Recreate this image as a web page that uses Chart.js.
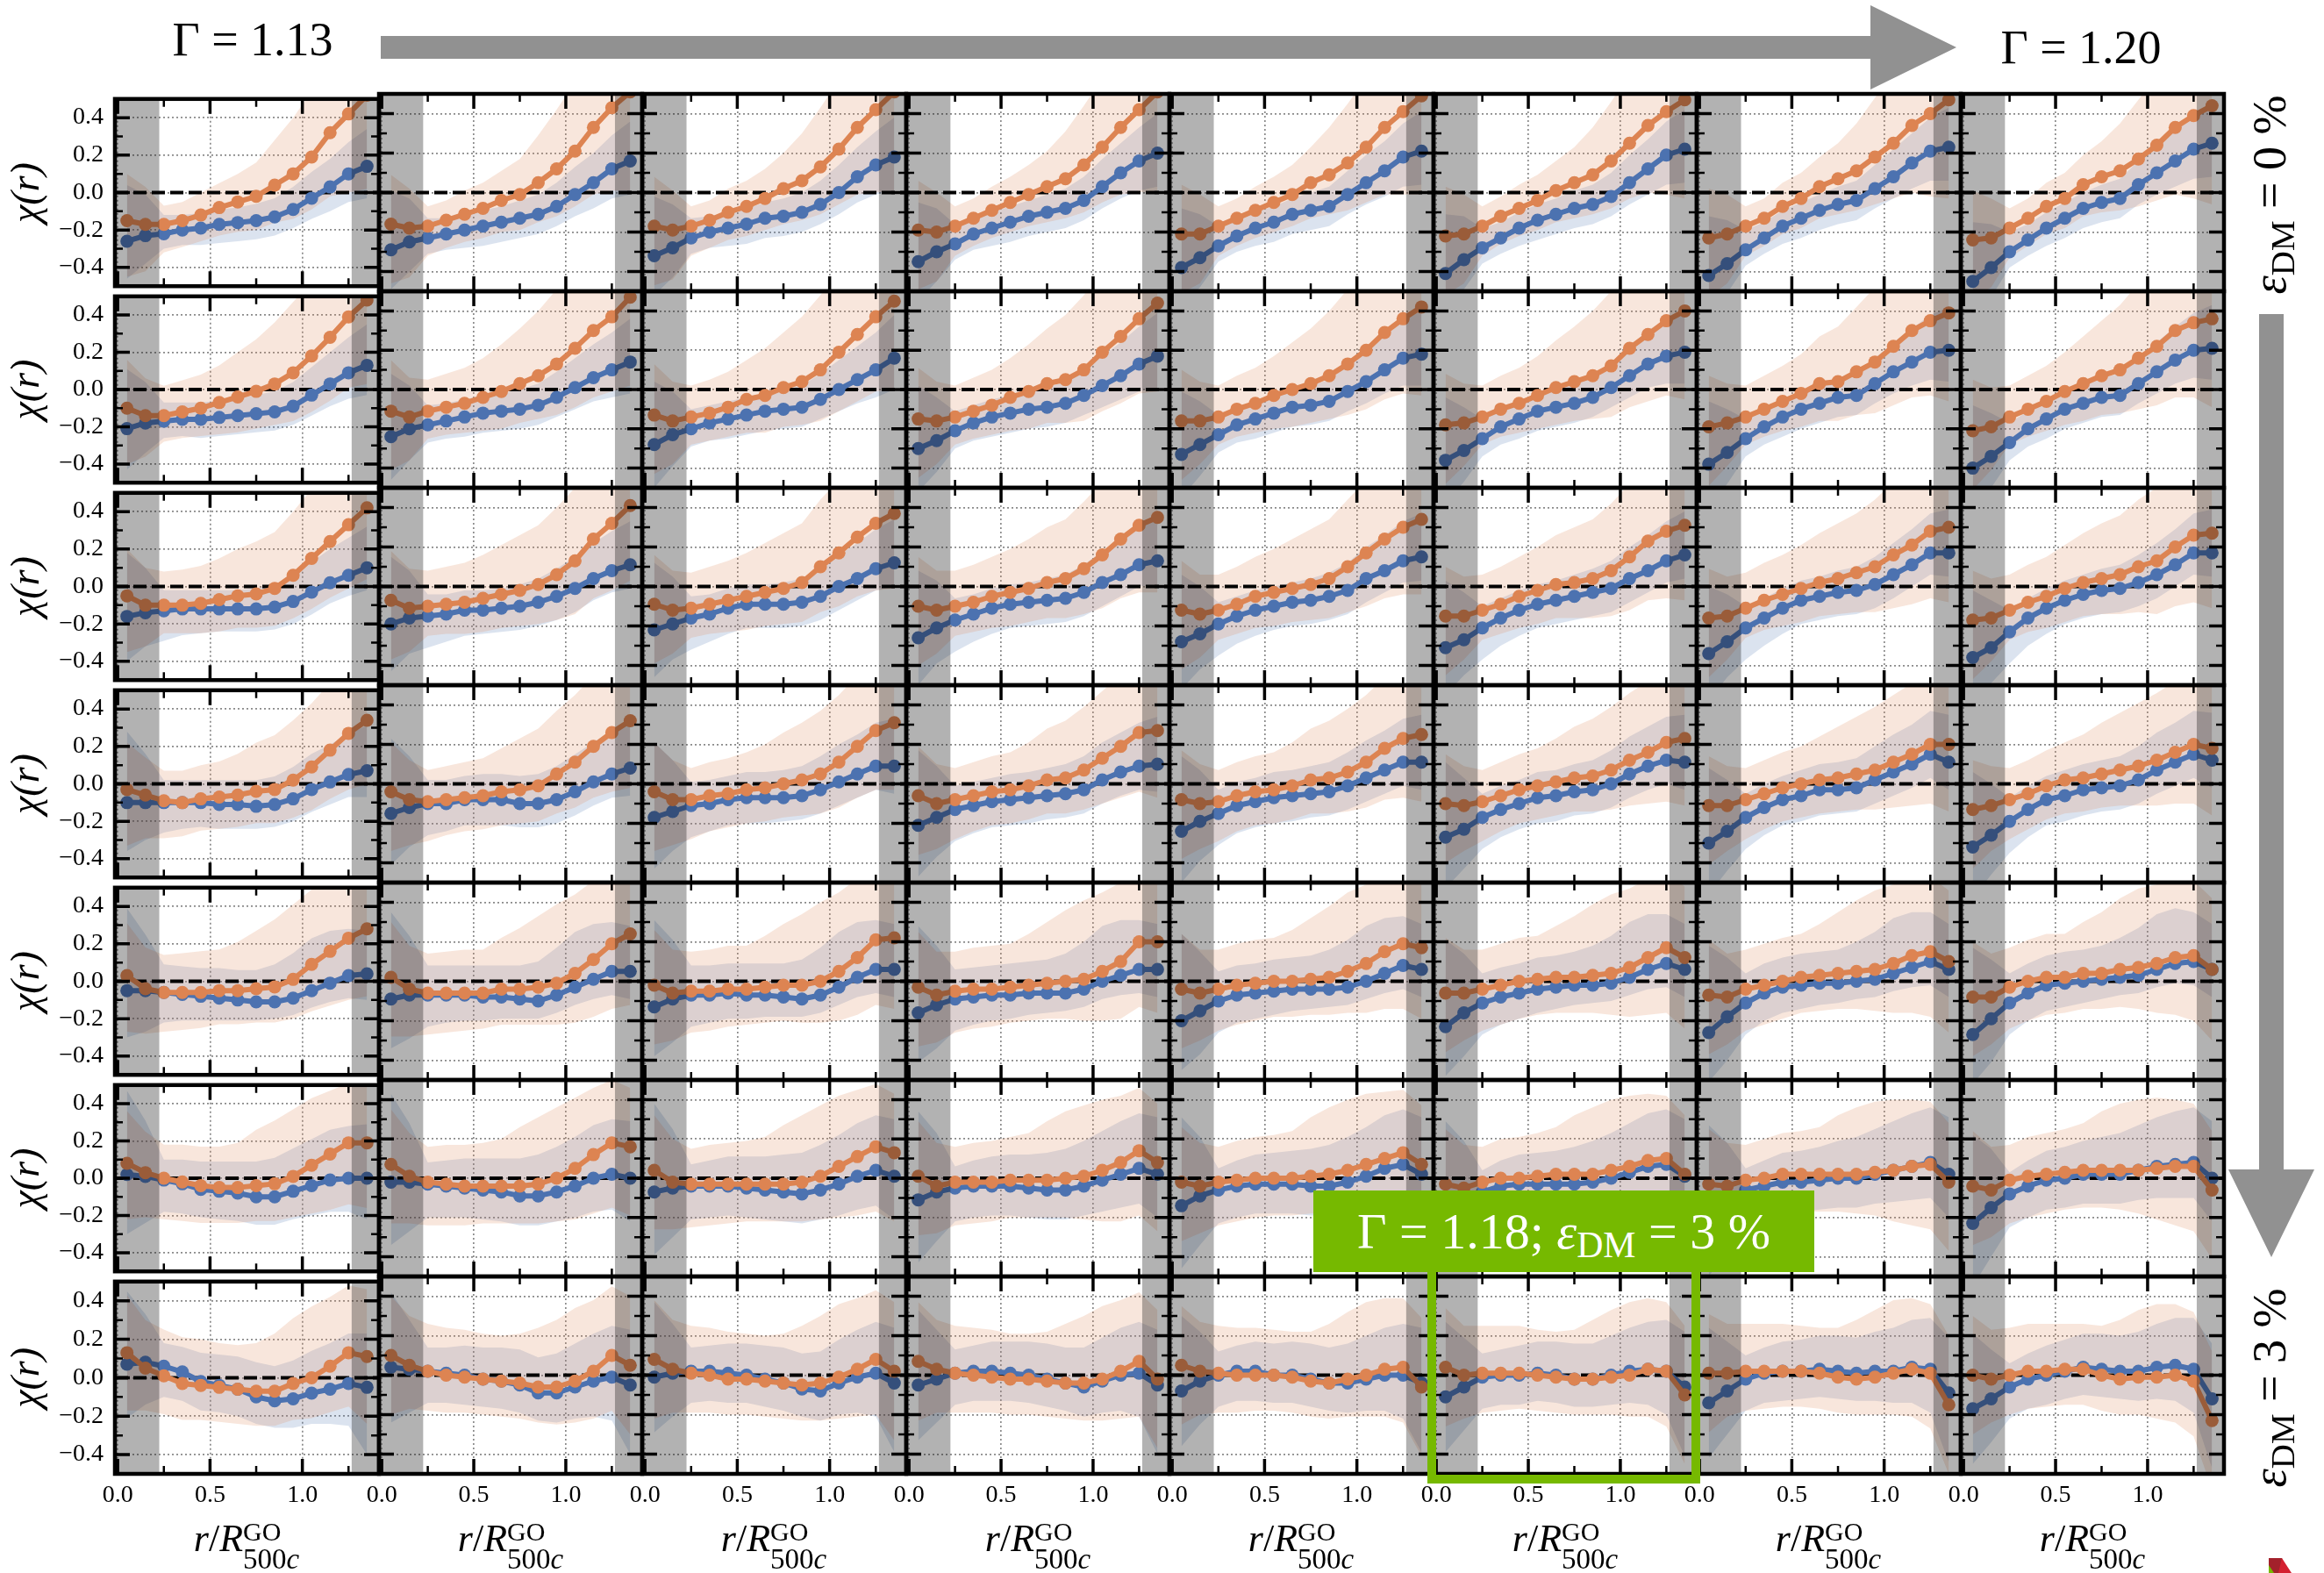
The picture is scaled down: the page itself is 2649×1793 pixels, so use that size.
<!DOCTYPE html>
<html lang="en">
<head>
<meta charset="utf-8">
<title>chi(r) grid</title>
<script src="https://cdn.jsdelivr.net/npm/chart.js@4.4.1/dist/chart.umd.min.js"></script>
<style>
  html, body { margin: 0; padding: 0; background: #fff; }
  body { position: relative; width: 2649px; height: 1793px; overflow: hidden;
         font-family: 'Liberation Serif', 'DejaVu Serif', serif; color: #000; }
  canvas.panel { position: absolute; z-index: 1; }
  .lbl { position: absolute; white-space: nowrap; line-height: 1; z-index: 5; }
  .gam { font-size: 54px; transform: translateX(-50%); }
  .eps { font-size: 54px; transform: translate(-50%, -50%) rotate(-90deg); }
  .sb { font-size: 0.72em; position: relative; top: 0.25em; }
  .xlab { font-size: 44px; transform: translateX(-50%); }
  .stack { display: inline-block; vertical-align: -20px; line-height: 1; }
  .stack .s1 { display: block; font-size: 30px; }
  .stack .s2 { display: block; font-size: 33px; }
  #deco { position: absolute; left: 0; top: 0; z-index: 4; }
  #hl-label { position: absolute; left: 1497px; top: 1357px; width: 571px; height: 93px;
    background: #76b900; color: #fff; font-size: 58px; line-height: 1; display: flex;
    align-items: center; justify-content: center; z-index: 6; white-space: nowrap; }
  #hl-box { position: absolute; left: 1627px; top: 1449px; width: 311px; height: 242px;
    box-sizing: border-box; border: 10px solid #76b900; border-top: none; z-index: 6; }
</style>
</head>
<body>

<svg id="deco" width="2649" height="1793" viewBox="0 0 2649 1793">
  <polygon fill="#919191" points="434,41 2132,41 2132,6 2230,54 2132,102 2132,67 434,67"/>
  <polygon fill="#919191" points="2575,358 2603,358 2603,1333 2638,1333 2589,1433 2540,1333 2575,1333"/>
  <polygon fill="#a3212b" points="2586,1776 2601,1776 2606,1793 2586,1793"/>
  <polygon fill="#d42031" points="2601,1776 2612,1793 2597,1793"/>
  <polygon fill="#76b900" points="2586,1784 2592,1793 2586,1793"/>
</svg>

<div class="lbl gam" style="left:288px; top:18px;">Γ = 1.13</div>
<div class="lbl gam" style="left:2372px; top:27px;">Γ = 1.20</div>
<div class="lbl eps" style="left:2587px; top:222px;"><i>ε</i><span class="sb">DM</span> = 0 %</div>
<div class="lbl eps" style="left:2587px; top:1582px;"><i>ε</i><span class="sb">DM</span> = 3 %</div>

<div id="hl-label"><span>Γ = 1.18; <i>ε</i><span class="sb">DM</span> = 3 %</span></div>
<div id="hl-box"></div>

<script>
// radial bins (r / R500c)
const xs = [0.05, 0.15, 0.25, 0.35, 0.45, 0.55, 0.65, 0.75, 0.85, 0.95, 1.05, 1.15, 1.25, 1.35];

// axis ticks and shaded (excluded) radial ranges
const xMajor = [0, 0.5, 1.0];
const xMinor = [0.25, 0.75, 1.25];
const yMajor = [-0.4, -0.2, 0, 0.2, 0.4];
const yMinor = [-0.3, -0.1, 0.1, 0.3];
const shadeLeft = 0.225;
const shadeRight = 1.267;

// chi(r), one row per eps_DM (0 % .. 3 %), 8 columns Gamma = 1.13 .. 1.20
const orangeRow0 = [
  [-0.15, -0.17, -0.17, -0.15, -0.12, -0.08, -0.05, -0.02, 0.04, 0.1, 0.19, 0.32, 0.42, 0.52],
  [-0.16, -0.18, -0.17, -0.14, -0.11, -0.08, -0.04, -0.01, 0.05, 0.12, 0.21, 0.33, 0.43, 0.51],
  [-0.17, -0.19, -0.17, -0.14, -0.1, -0.07, -0.03, 0.02, 0.06, 0.13, 0.22, 0.33, 0.42, 0.51],
  [-0.19, -0.2, -0.17, -0.13, -0.09, -0.05, -0.01, 0.03, 0.07, 0.14, 0.23, 0.33, 0.42, 0.51],
  [-0.21, -0.21, -0.17, -0.13, -0.09, -0.05, -0.01, 0.05, 0.09, 0.15, 0.23, 0.33, 0.41, 0.49],
  [-0.22, -0.21, -0.17, -0.12, -0.08, -0.04, 0.01, 0.05, 0.09, 0.16, 0.25, 0.34, 0.41, 0.47],
  [-0.23, -0.21, -0.17, -0.13, -0.07, -0.03, 0.03, 0.07, 0.11, 0.18, 0.25, 0.34, 0.4, 0.47],
  [-0.24, -0.23, -0.18, -0.13, -0.07, -0.03, 0.04, 0.08, 0.11, 0.17, 0.24, 0.33, 0.39, 0.44]
];
const blueRow0 = [
  [-0.26, -0.23, -0.22, -0.2, -0.19, -0.17, -0.16, -0.15, -0.13, -0.09, -0.03, 0.03, 0.1, 0.14],
  [-0.29, -0.25, -0.23, -0.21, -0.19, -0.17, -0.15, -0.13, -0.11, -0.07, -0.01, 0.05, 0.12, 0.16],
  [-0.32, -0.28, -0.23, -0.2, -0.18, -0.16, -0.13, -0.12, -0.1, -0.06, 0.0, 0.08, 0.14, 0.18],
  [-0.35, -0.3, -0.26, -0.21, -0.18, -0.15, -0.12, -0.1, -0.08, -0.04, 0.03, 0.1, 0.16, 0.2],
  [-0.38, -0.33, -0.27, -0.22, -0.18, -0.15, -0.11, -0.09, -0.07, -0.01, 0.05, 0.11, 0.18, 0.21],
  [-0.41, -0.34, -0.28, -0.23, -0.18, -0.14, -0.11, -0.08, -0.06, -0.02, 0.05, 0.12, 0.19, 0.22],
  [-0.42, -0.36, -0.29, -0.23, -0.17, -0.13, -0.09, -0.06, -0.04, 0.02, 0.08, 0.15, 0.21, 0.23],
  [-0.45, -0.38, -0.3, -0.24, -0.18, -0.13, -0.08, -0.05, -0.03, 0.04, 0.1, 0.16, 0.22, 0.25]
];
const orangeRow1 = [
  [-0.1, -0.14, -0.14, -0.12, -0.1, -0.07, -0.04, -0.01, 0.03, 0.09, 0.18, 0.28, 0.39, 0.48],
  [-0.11, -0.14, -0.11, -0.09, -0.07, -0.04, -0.01, 0.03, 0.07, 0.13, 0.21, 0.3, 0.37, 0.47],
  [-0.13, -0.16, -0.14, -0.12, -0.09, -0.05, -0.03, 0.01, 0.04, 0.1, 0.19, 0.28, 0.37, 0.45],
  [-0.15, -0.16, -0.14, -0.11, -0.08, -0.04, -0.01, 0.03, 0.05, 0.1, 0.19, 0.27, 0.36, 0.44],
  [-0.16, -0.16, -0.14, -0.1, -0.07, -0.03, 0.0, 0.03, 0.07, 0.13, 0.2, 0.29, 0.36, 0.42],
  [-0.18, -0.17, -0.14, -0.1, -0.07, -0.03, 0.01, 0.04, 0.07, 0.12, 0.21, 0.28, 0.35, 0.4],
  [-0.19, -0.17, -0.14, -0.1, -0.06, -0.02, 0.03, 0.04, 0.09, 0.14, 0.22, 0.3, 0.35, 0.39],
  [-0.21, -0.19, -0.14, -0.1, -0.06, -0.01, 0.03, 0.07, 0.1, 0.16, 0.22, 0.3, 0.34, 0.36]
];
const blueRow1 = [
  [-0.21, -0.18, -0.17, -0.16, -0.16, -0.15, -0.14, -0.13, -0.12, -0.09, -0.03, 0.03, 0.09, 0.13],
  [-0.24, -0.2, -0.18, -0.16, -0.14, -0.12, -0.11, -0.1, -0.08, -0.04, 0.01, 0.06, 0.1, 0.14],
  [-0.28, -0.23, -0.2, -0.17, -0.15, -0.13, -0.11, -0.1, -0.09, -0.05, 0.0, 0.05, 0.1, 0.16],
  [-0.3, -0.26, -0.21, -0.17, -0.14, -0.12, -0.1, -0.09, -0.07, -0.03, 0.02, 0.07, 0.13, 0.17],
  [-0.33, -0.28, -0.23, -0.18, -0.15, -0.12, -0.09, -0.08, -0.06, -0.01, 0.04, 0.1, 0.16, 0.18],
  [-0.36, -0.31, -0.25, -0.19, -0.15, -0.11, -0.09, -0.07, -0.04, 0.01, 0.07, 0.13, 0.17, 0.19],
  [-0.38, -0.32, -0.25, -0.19, -0.14, -0.1, -0.07, -0.04, -0.03, 0.03, 0.09, 0.14, 0.19, 0.2],
  [-0.4, -0.34, -0.27, -0.2, -0.15, -0.1, -0.07, -0.04, -0.03, 0.03, 0.09, 0.15, 0.2, 0.21]
];
const orangeRow2 = [
  [-0.05, -0.1, -0.1, -0.1, -0.09, -0.07, -0.05, -0.04, -0.01, 0.06, 0.15, 0.24, 0.33, 0.42],
  [-0.07, -0.11, -0.1, -0.09, -0.08, -0.06, -0.04, -0.02, 0.01, 0.06, 0.13, 0.24, 0.32, 0.41],
  [-0.09, -0.12, -0.11, -0.09, -0.07, -0.05, -0.03, -0.01, 0.02, 0.1, 0.17, 0.25, 0.32, 0.37],
  [-0.1, -0.12, -0.1, -0.08, -0.05, -0.03, -0.01, 0.02, 0.04, 0.09, 0.16, 0.24, 0.31, 0.35],
  [-0.12, -0.14, -0.12, -0.09, -0.05, -0.03, -0.01, 0.01, 0.04, 0.1, 0.17, 0.24, 0.3, 0.34],
  [-0.15, -0.15, -0.12, -0.09, -0.05, -0.02, 0.01, 0.02, 0.04, 0.08, 0.15, 0.23, 0.28, 0.31],
  [-0.16, -0.15, -0.11, -0.07, -0.04, -0.01, 0.02, 0.04, 0.07, 0.1, 0.16, 0.21, 0.28, 0.3],
  [-0.17, -0.16, -0.12, -0.08, -0.05, -0.01, 0.02, 0.04, 0.06, 0.1, 0.13, 0.2, 0.26, 0.27]
];
const blueRow2 = [
  [-0.16, -0.14, -0.13, -0.12, -0.12, -0.12, -0.12, -0.12, -0.11, -0.08, -0.03, 0.02, 0.06, 0.1],
  [-0.19, -0.16, -0.15, -0.14, -0.12, -0.12, -0.11, -0.1, -0.08, -0.05, -0.01, 0.04, 0.08, 0.11],
  [-0.22, -0.19, -0.16, -0.14, -0.11, -0.09, -0.09, -0.09, -0.08, -0.05, 0.0, 0.04, 0.09, 0.12],
  [-0.26, -0.21, -0.17, -0.14, -0.11, -0.09, -0.08, -0.07, -0.06, -0.03, 0.02, 0.06, 0.11, 0.13],
  [-0.28, -0.24, -0.19, -0.15, -0.12, -0.1, -0.08, -0.07, -0.05, -0.02, 0.04, 0.08, 0.13, 0.15],
  [-0.31, -0.27, -0.21, -0.16, -0.12, -0.09, -0.07, -0.05, -0.03, -0.01, 0.04, 0.08, 0.13, 0.16],
  [-0.34, -0.28, -0.21, -0.16, -0.11, -0.07, -0.05, -0.03, -0.02, 0.01, 0.06, 0.11, 0.17, 0.17],
  [-0.36, -0.31, -0.23, -0.16, -0.11, -0.07, -0.04, -0.02, -0.01, 0.02, 0.06, 0.11, 0.17, 0.17]
];
const orangeRow3 = [
  [-0.03, -0.06, -0.09, -0.1, -0.08, -0.07, -0.06, -0.04, -0.03, 0.02, 0.09, 0.18, 0.27, 0.34],
  [-0.04, -0.08, -0.09, -0.08, -0.07, -0.06, -0.04, -0.03, -0.01, 0.05, 0.11, 0.19, 0.26, 0.32],
  [-0.04, -0.08, -0.08, -0.06, -0.05, -0.03, -0.02, 0.0, 0.02, 0.05, 0.11, 0.19, 0.27, 0.31],
  [-0.06, -0.1, -0.08, -0.06, -0.04, -0.03, -0.01, 0.02, 0.03, 0.07, 0.13, 0.19, 0.26, 0.27],
  [-0.08, -0.1, -0.09, -0.06, -0.04, -0.03, -0.01, 0.02, 0.03, 0.06, 0.11, 0.18, 0.23, 0.25],
  [-0.1, -0.11, -0.09, -0.06, -0.03, -0.01, 0.01, 0.03, 0.04, 0.07, 0.12, 0.16, 0.21, 0.23],
  [-0.11, -0.11, -0.08, -0.05, -0.02, 0.0, 0.02, 0.03, 0.05, 0.07, 0.11, 0.15, 0.2, 0.2],
  [-0.13, -0.11, -0.08, -0.05, -0.01, 0.02, 0.03, 0.05, 0.07, 0.09, 0.12, 0.16, 0.2, 0.18]
];
const blueRow3 = [
  [-0.1, -0.1, -0.1, -0.1, -0.1, -0.11, -0.11, -0.12, -0.11, -0.08, -0.03, 0.01, 0.05, 0.07],
  [-0.15, -0.12, -0.1, -0.1, -0.08, -0.08, -0.08, -0.1, -0.1, -0.08, -0.04, 0.01, 0.05, 0.08],
  [-0.17, -0.14, -0.11, -0.1, -0.08, -0.07, -0.07, -0.07, -0.06, -0.03, 0.01, 0.05, 0.09, 0.09],
  [-0.21, -0.17, -0.13, -0.11, -0.09, -0.08, -0.07, -0.06, -0.05, -0.03, 0.02, 0.06, 0.09, 0.1],
  [-0.24, -0.19, -0.15, -0.11, -0.09, -0.07, -0.06, -0.05, -0.04, -0.01, 0.03, 0.07, 0.11, 0.11],
  [-0.27, -0.23, -0.17, -0.13, -0.1, -0.07, -0.06, -0.04, -0.03, 0.0, 0.05, 0.09, 0.12, 0.11],
  [-0.3, -0.24, -0.17, -0.12, -0.08, -0.06, -0.03, -0.03, -0.02, 0.02, 0.06, 0.1, 0.15, 0.11],
  [-0.32, -0.26, -0.19, -0.13, -0.08, -0.06, -0.03, -0.02, -0.01, 0.02, 0.07, 0.11, 0.15, 0.12]
];
const orangeRow4 = [
  [0.03, -0.04, -0.06, -0.06, -0.06, -0.05, -0.05, -0.04, -0.03, 0.01, 0.09, 0.16, 0.23, 0.28],
  [0.02, -0.04, -0.06, -0.06, -0.06, -0.06, -0.04, -0.04, -0.03, -0.01, 0.04, 0.11, 0.19, 0.24],
  [-0.02, -0.06, -0.05, -0.05, -0.04, -0.04, -0.03, -0.02, -0.02, 0.0, 0.05, 0.12, 0.21, 0.22],
  [-0.03, -0.07, -0.05, -0.04, -0.04, -0.03, -0.02, -0.01, 0.0, 0.01, 0.05, 0.1, 0.2, 0.2],
  [-0.04, -0.06, -0.04, -0.02, -0.01, 0.0, 0.0, 0.01, 0.02, 0.05, 0.09, 0.15, 0.19, 0.17],
  [-0.06, -0.06, -0.04, -0.02, 0.0, 0.01, 0.02, 0.02, 0.03, 0.04, 0.07, 0.12, 0.17, 0.12],
  [-0.07, -0.08, -0.04, -0.02, 0.0, 0.02, 0.03, 0.04, 0.05, 0.06, 0.09, 0.13, 0.15, 0.1],
  [-0.08, -0.08, -0.03, 0.0, 0.02, 0.02, 0.04, 0.04, 0.06, 0.07, 0.09, 0.12, 0.13, 0.06]
];
const blueRow4 = [
  [-0.05, -0.05, -0.06, -0.07, -0.08, -0.09, -0.1, -0.11, -0.11, -0.09, -0.05, -0.01, 0.03, 0.04],
  [-0.09, -0.07, -0.07, -0.07, -0.07, -0.08, -0.08, -0.09, -0.1, -0.07, -0.03, 0.01, 0.05, 0.05],
  [-0.13, -0.09, -0.07, -0.07, -0.06, -0.07, -0.07, -0.08, -0.09, -0.07, -0.03, 0.02, 0.06, 0.06],
  [-0.16, -0.12, -0.09, -0.08, -0.07, -0.07, -0.06, -0.06, -0.06, -0.04, 0.0, 0.03, 0.06, 0.06],
  [-0.2, -0.15, -0.1, -0.07, -0.06, -0.05, -0.04, -0.04, -0.04, -0.03, 0.0, 0.04, 0.08, 0.06],
  [-0.23, -0.16, -0.11, -0.08, -0.06, -0.04, -0.03, -0.02, -0.02, -0.01, 0.02, 0.06, 0.09, 0.06],
  [-0.26, -0.18, -0.11, -0.06, -0.03, -0.02, -0.01, -0.01, 0.0, 0.01, 0.04, 0.07, 0.1, 0.06],
  [-0.27, -0.19, -0.11, -0.06, -0.02, -0.01, 0.0, 0.01, 0.02, 0.03, 0.06, 0.09, 0.1, 0.06]
];
const orangeRow5 = [
  [0.08, 0.03, 0.0, -0.02, -0.04, -0.05, -0.05, -0.04, -0.03, 0.01, 0.07, 0.13, 0.19, 0.19],
  [0.07, 0.01, -0.02, -0.03, -0.04, -0.04, -0.04, -0.04, -0.03, 0.0, 0.05, 0.12, 0.18, 0.16],
  [0.04, -0.02, -0.03, -0.03, -0.03, -0.03, -0.03, -0.03, -0.02, 0.01, 0.06, 0.11, 0.16, 0.13],
  [0.01, -0.04, -0.02, -0.02, -0.02, -0.01, -0.01, -0.01, 0.0, 0.01, 0.04, 0.08, 0.14, 0.08],
  [-0.02, -0.04, -0.02, -0.01, 0.0, 0.0, 0.0, 0.01, 0.02, 0.04, 0.07, 0.1, 0.13, 0.07],
  [-0.03, -0.05, -0.02, 0.0, 0.0, 0.01, 0.02, 0.02, 0.02, 0.04, 0.06, 0.09, 0.1, 0.02],
  [-0.03, -0.04, -0.01, 0.0, 0.02, 0.02, 0.02, 0.02, 0.02, 0.03, 0.04, 0.06, 0.07, -0.02],
  [-0.04, -0.06, -0.01, 0.01, 0.02, 0.03, 0.04, 0.04, 0.04, 0.04, 0.05, 0.06, 0.06, -0.06]
];
const blueRow5 = [
  [0.02, 0.01, -0.01, -0.03, -0.06, -0.07, -0.08, -0.1, -0.1, -0.07, -0.04, -0.01, 0.0, 0.0],
  [-0.02, -0.02, -0.03, -0.04, -0.05, -0.06, -0.07, -0.09, -0.09, -0.07, -0.04, 0.0, 0.02, 0.0],
  [-0.07, -0.05, -0.04, -0.04, -0.04, -0.05, -0.06, -0.07, -0.08, -0.06, -0.03, 0.01, 0.04, 0.01],
  [-0.11, -0.07, -0.05, -0.04, -0.04, -0.04, -0.05, -0.06, -0.06, -0.04, -0.01, 0.02, 0.05, 0.02],
  [-0.14, -0.09, -0.06, -0.04, -0.03, -0.03, -0.03, -0.04, -0.04, -0.02, 0.01, 0.05, 0.07, 0.02],
  [-0.16, -0.11, -0.07, -0.04, -0.03, -0.03, -0.03, -0.03, -0.02, 0.0, 0.03, 0.06, 0.07, 0.01],
  [-0.18, -0.12, -0.06, -0.04, -0.02, -0.02, -0.01, 0.0, 0.0, 0.02, 0.04, 0.06, 0.08, 0.02],
  [-0.23, -0.15, -0.08, -0.04, -0.01, 0.0, 0.02, 0.02, 0.02, 0.04, 0.06, 0.07, 0.08, 0.0]
];
const orangeRow6 = [
  [0.13, 0.05, 0.01, -0.03, -0.04, -0.05, -0.06, -0.07, -0.07, -0.03, 0.0, 0.06, 0.13, 0.11],
  [0.1, 0.05, 0.02, 0.0, -0.01, -0.02, -0.03, -0.04, -0.06, -0.06, -0.03, 0.02, 0.1, 0.05],
  [0.08, 0.03, 0.01, 0.0, -0.02, -0.02, -0.03, -0.04, -0.05, -0.04, -0.01, 0.03, 0.08, 0.02],
  [0.07, 0.03, 0.01, 0.0, -0.01, -0.02, -0.02, -0.03, -0.04, -0.04, -0.02, 0.02, 0.07, -0.02],
  [0.05, 0.02, 0.01, 0.0, 0.0, 0.0, -0.01, -0.03, -0.04, -0.02, 0.0, 0.03, 0.04, -0.06],
  [0.04, 0.0, 0.01, 0.01, 0.01, 0.0, -0.01, -0.02, -0.02, -0.01, 0.0, 0.03, 0.02, -0.1],
  [0.01, 0.01, 0.02, 0.02, 0.02, 0.02, 0.01, -0.01, -0.02, -0.01, 0.01, 0.03, 0.01, -0.15],
  [0.0, -0.02, 0.0, 0.02, 0.02, 0.03, 0.03, 0.0, -0.02, -0.01, -0.01, 0.0, -0.03, -0.23]
];
const blueRow6 = [
  [0.07, 0.08, 0.06, 0.03, -0.02, -0.04, -0.06, -0.1, -0.12, -0.11, -0.08, -0.06, -0.03, -0.05],
  [0.04, 0.03, 0.02, 0.01, 0.0, -0.02, -0.03, -0.05, -0.09, -0.09, -0.06, -0.03, -0.01, -0.05],
  [-0.01, 0.01, 0.02, 0.02, 0.01, 0.0, -0.02, -0.04, -0.07, -0.08, -0.04, -0.01, 0.01, -0.04],
  [-0.05, -0.02, 0.01, 0.02, 0.02, 0.01, 0.0, -0.02, -0.04, -0.06, -0.03, 0.0, 0.01, -0.05],
  [-0.08, -0.03, 0.0, 0.02, 0.02, 0.0, 0.0, -0.02, -0.04, -0.04, -0.02, 0.0, 0.0, -0.04],
  [-0.11, -0.06, -0.01, 0.0, 0.0, 0.01, 0.0, -0.02, -0.02, 0.0, 0.02, 0.03, 0.02, -0.06],
  [-0.14, -0.08, -0.02, 0.01, 0.02, 0.02, 0.03, 0.02, 0.01, 0.02, 0.02, 0.04, 0.03, -0.09],
  [-0.17, -0.12, -0.06, -0.02, 0.0, 0.02, 0.04, 0.03, 0.02, 0.02, 0.04, 0.05, 0.03, -0.12]
];

// scatter band widths (distance of band edge from the line), one list per row
const orangeBandUp = [
  [0.25, 0.2, 0.1, 0.1, 0.12, 0.13, 0.15, 0.18, 0.24, 0.3, 0.35, 0.4, 0.4, 0.4],
  [0.26, 0.2, 0.16, 0.17, 0.18, 0.2, 0.24, 0.28, 0.33, 0.38, 0.4, 0.4, 0.4, 0.4],
  [0.25, 0.2, 0.18, 0.19, 0.2, 0.22, 0.25, 0.28, 0.3, 0.34, 0.37, 0.4, 0.4, 0.4],
  [0.25, 0.2, 0.16, 0.17, 0.18, 0.19, 0.22, 0.26, 0.29, 0.32, 0.34, 0.36, 0.36, 0.36],
  [0.28, 0.22, 0.2, 0.21, 0.22, 0.22, 0.26, 0.31, 0.36, 0.4, 0.4, 0.4, 0.38, 0.36],
  [0.28, 0.22, 0.18, 0.2, 0.21, 0.22, 0.24, 0.3, 0.34, 0.36, 0.36, 0.34, 0.32, 0.3],
  [0.3, 0.25, 0.24, 0.24, 0.24, 0.23, 0.23, 0.25, 0.3, 0.34, 0.37, 0.36, 0.35, 0.35]
];
const orangeBandDown = [
  [0.3, 0.25, 0.15, 0.14, 0.14, 0.15, 0.16, 0.18, 0.2, 0.24, 0.28, 0.34, 0.42, 0.5],
  [0.3, 0.22, 0.14, 0.14, 0.15, 0.17, 0.19, 0.2, 0.22, 0.26, 0.3, 0.34, 0.38, 0.45],
  [0.3, 0.22, 0.15, 0.15, 0.16, 0.17, 0.17, 0.18, 0.2, 0.23, 0.27, 0.3, 0.34, 0.38],
  [0.3, 0.23, 0.2, 0.18, 0.17, 0.17, 0.17, 0.17, 0.18, 0.2, 0.23, 0.26, 0.3, 0.34],
  [0.3, 0.24, 0.21, 0.2, 0.19, 0.18, 0.18, 0.18, 0.19, 0.21, 0.25, 0.29, 0.33, 0.36],
  [0.3, 0.24, 0.22, 0.21, 0.2, 0.19, 0.19, 0.19, 0.2, 0.22, 0.26, 0.3, 0.33, 0.35],
  [0.3, 0.22, 0.2, 0.19, 0.18, 0.18, 0.18, 0.18, 0.18, 0.19, 0.21, 0.24, 0.28, 0.35]
];
const blueBandUp = [
  [0.3, 0.22, 0.1, 0.08, 0.08, 0.08, 0.08, 0.09, 0.1, 0.12, 0.14, 0.15, 0.17, 0.2],
  [0.32, 0.22, 0.1, 0.09, 0.09, 0.09, 0.09, 0.1, 0.11, 0.13, 0.15, 0.17, 0.19, 0.22],
  [0.34, 0.24, 0.11, 0.1, 0.1, 0.1, 0.1, 0.11, 0.12, 0.14, 0.16, 0.18, 0.2, 0.22],
  [0.38, 0.26, 0.12, 0.12, 0.12, 0.13, 0.13, 0.14, 0.15, 0.17, 0.19, 0.2, 0.22, 0.24],
  [0.44, 0.3, 0.15, 0.15, 0.15, 0.16, 0.16, 0.17, 0.2, 0.24, 0.28, 0.28, 0.25, 0.23],
  [0.45, 0.3, 0.11, 0.13, 0.15, 0.16, 0.17, 0.19, 0.21, 0.23, 0.25, 0.27, 0.28, 0.29],
  [0.38, 0.25, 0.12, 0.13, 0.15, 0.16, 0.17, 0.18, 0.18, 0.2, 0.22, 0.24, 0.26, 0.28]
];
const blueBandDown = [
  [0.2, 0.15, 0.08, 0.08, 0.09, 0.1, 0.1, 0.1, 0.1, 0.1, 0.11, 0.13, 0.15, 0.17],
  [0.22, 0.16, 0.09, 0.09, 0.1, 0.1, 0.1, 0.1, 0.1, 0.1, 0.11, 0.12, 0.14, 0.16],
  [0.24, 0.18, 0.16, 0.14, 0.13, 0.12, 0.12, 0.12, 0.12, 0.12, 0.12, 0.11, 0.11, 0.12],
  [0.26, 0.2, 0.16, 0.14, 0.13, 0.13, 0.13, 0.12, 0.12, 0.12, 0.12, 0.12, 0.12, 0.14],
  [0.25, 0.22, 0.16, 0.14, 0.13, 0.12, 0.11, 0.1, 0.09, 0.09, 0.09, 0.1, 0.12, 0.14],
  [0.32, 0.25, 0.17, 0.16, 0.15, 0.15, 0.15, 0.15, 0.15, 0.15, 0.16, 0.17, 0.18, 0.22],
  [0.28, 0.22, 0.16, 0.15, 0.15, 0.14, 0.14, 0.14, 0.14, 0.15, 0.16, 0.18, 0.22, 0.35]
];

const orangeRows = [orangeRow0, orangeRow1, orangeRow2, orangeRow3, orangeRow4, orangeRow5, orangeRow6];
const blueRows = [blueRow0, blueRow1, blueRow2, blueRow3, blueRow4, blueRow5, blueRow6];

// look
const ORANGE = '#dd8452', BLUE = '#4c72b0';
const ORANGE_FILL = 'rgba(221,132,82,0.2)', BLUE_FILL = 'rgba(76,114,176,0.2)';
const SHADE = 'rgba(0,0,0,0.3)';
const GRID = '#8a8a8a';
const NONE = 'rgba(0,0,0,0)';
const SERIF = "Liberation Serif";

// panel grid geometry (page pixels)
const X0 = 131, PW = 300.5, Y0 = 107, PH = 224.7;
const NR = 7, NC = 8;
const PAD = 24, XLAB_H = 60;
const X_MIN = -0.015, X_MAX = 1.415;

Chart.defaults.font.family = SERIF;

const fmt = v => (v < -1e-9 ? '\u2212' : '') + Math.abs(v).toFixed(1);
const pts = vals => xs.map((x, i) => ({x: x, y: vals[i]}));

// shaded ranges, then inward ticks and the frame
const framePlugin = {
  id: 'frame',
  afterDatasetsDraw(chart) {
    const {ctx, chartArea: a, scales: {x}} = chart;
    const l = x.getPixelForValue(shadeLeft), r = x.getPixelForValue(shadeRight);
    ctx.save();
    ctx.fillStyle = SHADE;
    ctx.fillRect(a.left, a.top, l - a.left, a.bottom - a.top);
    ctx.fillRect(r, a.top, a.right - r, a.bottom - a.top);
    ctx.restore();
  },
  afterDraw(chart) {
    const {ctx, chartArea: a, scales: {x, y}} = chart;
    ctx.save();
    ctx.strokeStyle = '#000';
    const xt = (vals, len, w) => {
      ctx.lineWidth = w;
      ctx.beginPath();
      vals.forEach(v => {
        const p = x.getPixelForValue(v);
        ctx.moveTo(p, a.bottom); ctx.lineTo(p, a.bottom - len);
        ctx.moveTo(p, a.top); ctx.lineTo(p, a.top + len);
      });
      ctx.stroke();
    };
    const yt = (vals, len, w) => {
      ctx.lineWidth = w;
      ctx.beginPath();
      vals.forEach(v => {
        const p = y.getPixelForValue(v);
        ctx.moveTo(a.left, p); ctx.lineTo(a.left + len, p);
        ctx.moveTo(a.right, p); ctx.lineTo(a.right - len, p);
      });
      ctx.stroke();
    };
    xt(xMajor, 17, 3.5);
    xt(xMinor, 9, 2.5);
    yt(yMajor, 17, 3.5);
    yt(yMinor, 9, 2.5);
    ctx.lineWidth = 4.5;
    ctx.strokeRect(a.left, a.top, a.right - a.left, a.bottom - a.top);
    ctx.restore();
  }
};

function makePanel(r, c) {
  const left = Math.round(X0 + c * PW), right = Math.round(X0 + (c + 1) * PW);
  const top = Math.round(Y0 + r * PH), bottom = Math.round(Y0 + (r + 1) * PH);
  const isLeft = c === 0, isBottom = r === NR - 1;
  const padL = isLeft ? left : PAD;
  const padB = isBottom ? XLAB_H : PAD;
  const w = right - left + padL + PAD, h = bottom - top + PAD + padB;

  const cv = document.createElement('canvas');
  cv.className = 'panel';
  cv.width = w; cv.height = h;
  cv.style.width = w + 'px'; cv.style.height = h + 'px';
  cv.style.left = (left - padL) + 'px';
  cv.style.top = (top - PAD) + 'px';
  document.body.appendChild(cv);

  const o = orangeRows[r][c], b = blueRows[r][c];
  const oHi = o.map((v, i) => v + orangeBandUp[r][i]);
  const oLo = o.map((v, i) => v - orangeBandDown[r][i]);
  const bHi = b.map((v, i) => v + blueBandUp[r][i]);
  const bLo = b.map((v, i) => v - blueBandDown[r][i]);

  const line = (vals, color, order) => ({
    data: pts(vals), borderColor: color, backgroundColor: color,
    pointBackgroundColor: color, pointBorderColor: color,
    borderWidth: 6, pointRadius: 7.5, pointBorderWidth: 0, pointHoverRadius: 7.5,
    borderJoinStyle: 'round', fill: false, order: order, clip: 0
  });
  const edge = (vals, fillColor, fill, order) => ({
    data: pts(vals), borderColor: NONE, borderWidth: 0, pointRadius: 0,
    backgroundColor: fillColor, fill: fill, order: order, clip: 0
  });

  const gridOpts = {color: GRID, lineWidth: 1.7, drawTicks: false};
  const tickFont = {family: SERIF, size: 28};

  new Chart(cv, {
    type: 'line',
    data: {
      datasets: [
        line(o, ORANGE, 0),
        line(b, BLUE, 1),
        {
          data: [{x: X_MIN, y: 0}, {x: X_MAX, y: 0}], borderColor: '#000', borderWidth: 4,
          borderDash: [15, 6], pointRadius: 0, fill: false, order: 2, clip: 0
        },
        edge(oHi, ORANGE_FILL, '+1', 3),
        edge(oLo, NONE, false, 3),
        edge(bHi, BLUE_FILL, '+1', 4),
        edge(bLo, NONE, false, 4)
      ]
    },
    options: {
      responsive: false,
      animation: false,
      devicePixelRatio: 1,
      events: [],
      layout: {padding: {left: isLeft ? 0 : PAD, right: PAD, top: PAD, bottom: isBottom ? 0 : PAD}},
      elements: {line: {tension: 0}},
      plugins: {legend: {display: false}, tooltip: {enabled: false}},
      scales: {
        x: {
          type: 'linear', min: X_MIN, max: X_MAX,
          afterBuildTicks: s => { s.ticks = xMajor.map(v => ({value: v})); },
          afterFit: s => { s.height = isBottom ? XLAB_H : 0; },
          grid: gridOpts,
          border: {display: false, dash: [2, 3]},
          ticks: {display: isBottom, padding: 8, color: '#000', font: tickFont,
                  maxRotation: 0, autoSkip: false, callback: v => fmt(v)}
        },
        y: {
          type: 'linear', min: -0.5, max: 0.5,
          afterBuildTicks: s => { s.ticks = yMajor.map(v => ({value: v})); },
          afterFit: s => { s.width = isLeft ? left : 0; },
          grid: gridOpts,
          border: {display: false, dash: [2, 3]},
          ticks: {display: isLeft, padding: 13, color: '#000', font: tickFont,
                  autoSkip: false, callback: v => fmt(v)},
          title: {display: isLeft, text: 'χ(r)', color: '#000',
                  font: {family: SERIF, size: 46, style: 'italic'}, padding: {top: 4, bottom: 0}}
        }
      }
    },
    plugins: [framePlugin]
  });
}

for (let r = 0; r < NR; r++) {
  for (let c = 0; c < NC; c++) makePanel(r, c);
}

// x axis titles under each column
for (let c = 0; c < NC; c++) {
  const d = document.createElement('div');
  d.className = 'lbl xlab';
  d.style.left = Math.round(X0 + (c + 0.5) * PW) + 'px';
  d.style.top = '1731px';
  d.innerHTML = '<i>r</i>/<i>R</i><span class="stack"><span class="s1">GO</span><span class="s2">500<i>c</i></span></span>';
  document.body.appendChild(d);
}
</script>
</body>
</html>
